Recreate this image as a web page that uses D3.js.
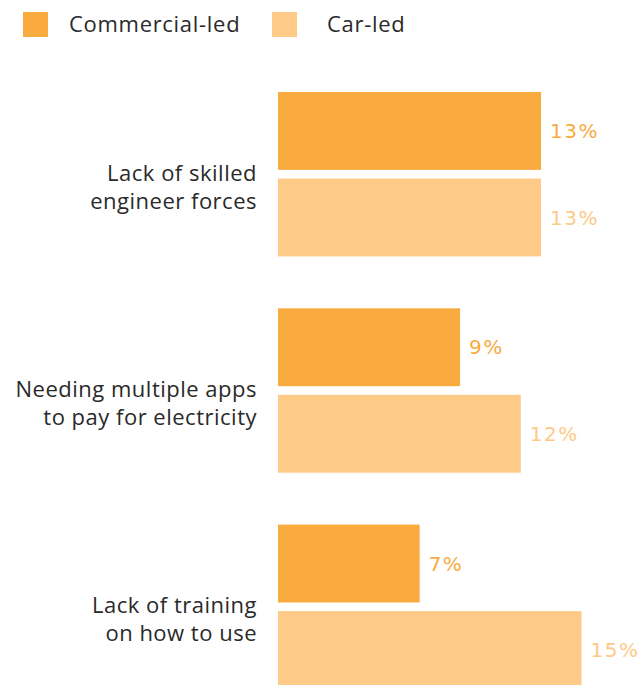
<!DOCTYPE html>
<html>
<head>
<meta charset="utf-8">
<script src="https://cdn.jsdelivr.net/npm/d3@7"></script>
<style>
  body { margin: 0; background: #fff; }
  svg { display: block; }
</style>
</head>
<body>
<div class="chart"></div>
<script>
// data
var categories = ["Lack of skilled\nengineer forces", "Needing multiple apps\nto pay for electricity", "Lack of training\non how to use"];
var series = ["Commercial-led", "Car-led"];
var commercialValues = [13, 9, 7];
var carValues = [13, 12, 15];
var colors = ["#F9AB3F", "#FDCA88"];

var svgWidth = 643, svgHeight = 685;

var svg = d3.select(".chart")
  .append("svg")
  .attr("width", svgWidth)
  .attr("height", svgHeight);

var labelFont = "'Open Sans', sans-serif";
var valueFont = "'DejaVu Sans', sans-serif";

// scales
var x = d3.scaleLinear()
  .domain([0, 15])
  .range([278, 581.5]);

var y0 = d3.scaleBand()
  .domain(categories)
  .range([92, 689])
  .paddingInner(0.24)
  .paddingOuter(0);

var y1 = d3.scaleBand()
  .domain(series)
  .range([0, y0.bandwidth()])
  .paddingInner(0.1);

var rows = categories.map(function(c, i) {
  return {cat: c, vals: [commercialValues[i], carValues[i]]};
});

var groups = svg.selectAll("g.group")
  .data(rows)
  .enter()
  .append("g")
  .attr("class", "group")
  .attr("transform", d => `translate(0, ${y0(d.cat)})`);

// bars
groups.selectAll("rect")
  .data(d => d.vals.map((v, j) => ({s: series[j], v: v, j: j})))
  .enter()
  .append("rect")
  .attr("x", x(0))
  .attr("y", d => y1(d.s))
  .attr("width", d => x(d.v) - x(0))
  .attr("height", y1.bandwidth())
  .attr("fill", d => colors[d.j]);

// value labels
groups.selectAll("text.value")
  .data(d => d.vals.map((v, j) => ({s: series[j], v: v, j: j})))
  .enter()
  .append("text")
  .attr("class", "value")
  .attr("x", d => x(d.v) + 9)
  .attr("y", d => y1(d.s) + y1.bandwidth() / 2)
  .attr("dy", "0.36em")
  .style("font-family", valueFont)
  .style("font-size", "20px")
  .style("letter-spacing", "1.5px")
  .attr("fill", d => colors[d.j])
  .text(d => d.v + "%");

// category labels
var catText = groups.append("text")
  .attr("text-anchor", "end")
  .style("font-family", labelFont)
  .style("font-size", "22px")
  .style("letter-spacing", "0.5px")
  .attr("fill", "#2a2a2a");

catText.selectAll("tspan")
  .data(d => d.cat.split("\n"))
  .enter()
  .append("tspan")
  .attr("x", 257)
  .attr("y", (d, i) => y0.bandwidth() / 2 + 6.5 + i * 28)
  .text(d => d);

// legend
var legend = svg.append("g");
var legendX = [23, 272];
var legendItems = legend.selectAll("g")
  .data(series)
  .enter()
  .append("g")
  .attr("transform", (d, i) => `translate(${legendX[i]}, 12)`);

legendItems.append("rect")
  .attr("width", 25)
  .attr("height", 25)
  .attr("fill", (d, i) => colors[i]);

legendItems.append("text")
  .attr("x", (d, i) => i == 0 ? 46 : 55)
  .attr("y", 20)
  .style("font-family", labelFont)
  .style("font-size", "22px")
  .style("letter-spacing", "0.7px")
  .attr("fill", "#2a2a2a")
  .text(d => d);
</script>
</body>
</html>
